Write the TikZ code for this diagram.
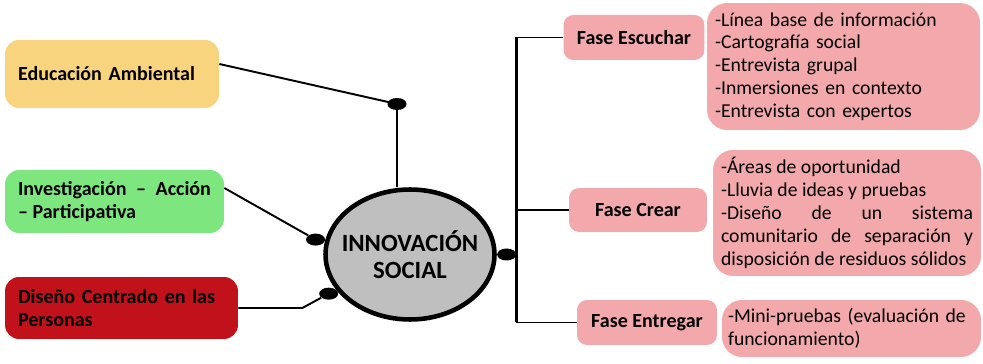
\documentclass[tikz,border=0pt]{standalone}
\usepackage{fontspec}
\setmainfont{Carlito}
\usepackage{tikz}
\usetikzlibrary{shapes.geometric}
\definecolor{amarillo}{HTML}{F9D47F}
\definecolor{verde}{HTML}{7EE67E}
\definecolor{rojo}{HTML}{C1111B}
\definecolor{rosa}{HTML}{F3A8AB}
\definecolor{gris}{HTML}{BFBFBF}
\tikzstyle{every node} = [align = left]
\tikzset{
    caja/.style = {
        rounded corners = 0.28cm,
        inner xsep = 0.26cm,
        inner ysep = 0pt,
        font = \fontsize{11.4}{13.4}\selectfont\bfseries
    },
    fase/.style = {
        fill = rosa,
        rounded corners = 0.2cm,
        align = center,
        minimum height = 0.9cm,
        font = \fontsize{11.4}{13}\selectfont\bfseries
    },
    lista/.style = {
        fill = rosa,
        rounded corners = 0.4cm,
        inner ysep = 0pt,
        font = \fontsize{11.2}{13}\selectfont
    },
    punto/.style = {
        ellipse,
        fill = black,
        minimum width = 0.38cm,
        minimum height = 0.24cm,
        inner sep = 0pt
    },
    rama/.style = {line width = 1.1pt}
}

\begin{document}
\begin{tikzpicture}[x = 0.02cm, y = -0.02cm]
        \useasboundingbox (0, 0) rectangle (983, 364);
        \node [caja, fill = amarillo, text width = 3.76cm, minimum height = 1.36cm] (edu) at (112, 74) {Educación Ambiental};
        \node [caja, fill = verde, text width = 3.86cm, minimum height = 1.26cm, align = justify] (inv) at (114.5, 201.5) {Investigación – Acción\linebreak – Participativa};
        \node [caja, fill = rojo, text width = 4.14cm, minimum height = 1.24cm] (dis) at (121.5, 308) {Diseño Centrado en las\\Personas};
        \node [ellipse, draw, fill = gris, line width = 2.6pt, minimum width = 3.38cm, minimum height = 2.6cm] (soc) at (410, 254.5) {};
        \node [align = center, font = \fontsize{14.1}{15.3}\selectfont\bfseries] (socT) at (soc.center) {INNOVACIÓN\\SOCIAL};
        \node [fase, minimum width = 2.82cm] (esc) at (634, 37.5) {Fase Escuchar};
        \node [lista, minimum width = 5.46cm, minimum height = 2.54cm, inner xsep = 0.16cm, text width = 5.14cm] (escL) at (843.5, 66.5) {-Línea base de información\\-Cartografía social\\-Entrevista grupal\\-Inmersiones en contexto\\-Entrevista con expertos};
        \node [fase, minimum width = 2.76cm, minimum height = 0.88cm] (cre) at (638, 210) {Fase Crear};
        \node [lista, minimum height = 2.52cm, inner xsep = 0.16cm, text width = 5.04cm, align = justify] (creL) at (847, 213) {\parfillskip = 0pt -Áreas de oportunidad\\-Lluvia de ideas y pruebas\\-Diseño de un sistema\linebreak comunitario de separación y\linebreak disposición de residuos sólidos};
        \node [fase, minimum width = 2.8cm] (ent) at (647, 322.5) {Fase Entregar};
        \node [lista, minimum height = 1.14cm, inner xsep = 0.12cm, text width = 4.94cm] (entL) at (851.5, 328.5) {-Mini-pruebas (evaluación de\\funcionamiento)};

        \coordinate (p1) at (397, 104);
        \draw [rama] ([yshift = 0.2cm] edu.east) -- (p1) -- (p1 |- soc.north);
        \node [punto] (d1) at (p1) {};
        \node [punto, anchor = east] (d2) at (soc.170) {};
        \node [punto, anchor = north east] (d3) at (soc.205) {};
        \node [punto, anchor = west] (d4) at (soc.east) {};
        \draw [rama] ([yshift = 0.27cm] inv.east) -- (d2);
        \draw [rama] (dis.east) -- ++(64, 0) -- (d3);

        \draw [rama, line width = 1.4pt] (esc.west -| d4.east) -- (ent.west -| d4.east);
        \draw [rama] (esc.west -| d4.east) -- (esc.west);
        \draw [rama] (cre.west -| d4.east) -- (cre.west);
        \draw [rama] (ent.west -| d4.east) -- (ent.west);
    \end{tikzpicture}
\end{document}
